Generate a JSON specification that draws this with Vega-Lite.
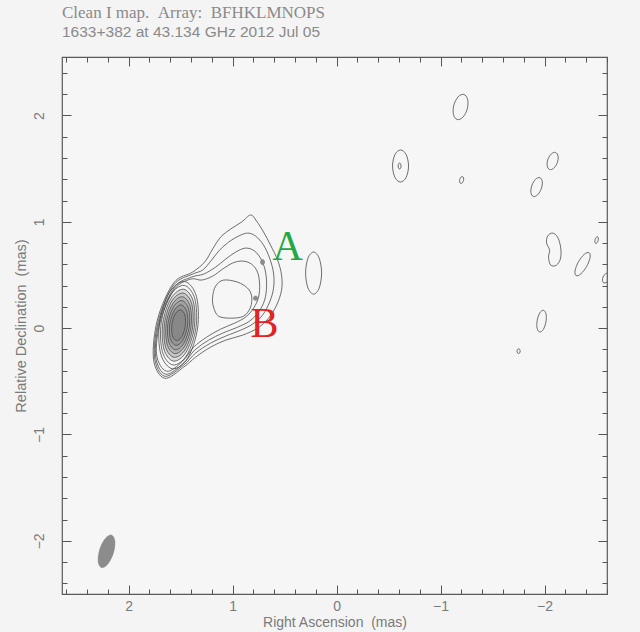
{
"$schema":"https://vega.github.io/schema/vega-lite/v6.json",
"width":545,"height":537,
"autosize":{"type":"none"},
"padding":{"left":62,"top":57,"right":33,"bottom":38},
"background":"#f4f4f4",
"title":{"text":"Clean I map.\u00a0\u00a0Array:\u00a0\u00a0BFHKLMNOPS","subtitle":"1633+382 at 43.134 GHz 2012 Jul 05","anchor":"start","frame":"group","offset":15,"font":"Liberation Serif","fontSize":17,"fontWeight":"normal","color":"#8a8a8a","subtitleFont":"Liberation Sans","subtitleFontSize":15.5,"subtitleColor":"#8a8a8a","subtitlePadding":3},
"config":{"view":{"stroke":"#5a5a5a","strokeWidth":1.2,"fill":"#f6f6f6"}},
"datasets":{
"contours":[
{"id":"L1","o":1,"x":0.827,"y":1.064},{"id":"L1","o":2,"x":0.769,"y":1.007},{"id":"L1","o":3,"x":0.702,"y":0.904},{"id":"L1","o":4,"x":0.635,"y":0.781},{"id":"L1","o":5,"x":0.567,"y":0.640},{"id":"L1","o":6,"x":0.529,"y":0.499},{"id":"L1","o":7,"x":0.529,"y":0.358},{"id":"L1","o":8,"x":0.577,"y":0.216},{"id":"L1","o":9,"x":0.654,"y":0.094},{"id":"L1","o":10,"x":0.760,"y":0.000},{"id":"L1","o":11,"x":0.904,"y":-0.066},{"id":"L1","o":12,"x":1.067,"y":-0.113},{"id":"L1","o":13,"x":1.212,"y":-0.179},{"id":"L1","o":14,"x":1.356,"y":-0.273},{"id":"L1","o":15,"x":1.471,"y":-0.367},{"id":"L1","o":16,"x":1.654,"y":-0.471},{"id":"L1","o":17,"x":1.760,"y":-0.292},{"id":"L1","o":18,"x":1.721,"y":0.085},{"id":"L1","o":19,"x":1.567,"y":0.424},{"id":"L1","o":20,"x":1.385,"y":0.527},{"id":"L1","o":21,"x":1.269,"y":0.621},{"id":"L1","o":22,"x":1.192,"y":0.744},{"id":"L1","o":23,"x":1.115,"y":0.856},{"id":"L1","o":24,"x":1.019,"y":0.932},{"id":"L1","o":25,"x":0.913,"y":0.998},
{"id":"L2","o":1,"x":0.856,"y":0.894},{"id":"L2","o":2,"x":0.779,"y":0.866},{"id":"L2","o":3,"x":0.702,"y":0.781},{"id":"L2","o":4,"x":0.644,"y":0.659},{"id":"L2","o":5,"x":0.606,"y":0.518},{"id":"L2","o":6,"x":0.606,"y":0.376},{"id":"L2","o":7,"x":0.644,"y":0.245},{"id":"L2","o":8,"x":0.712,"y":0.122},{"id":"L2","o":9,"x":0.808,"y":0.038},{"id":"L2","o":10,"x":0.923,"y":-0.019},{"id":"L2","o":11,"x":1.067,"y":-0.075},{"id":"L2","o":12,"x":1.212,"y":-0.141},{"id":"L2","o":13,"x":1.356,"y":-0.235},{"id":"L2","o":14,"x":1.471,"y":-0.348},{"id":"L2","o":15,"x":1.654,"y":-0.452},{"id":"L2","o":16,"x":1.750,"y":-0.273},{"id":"L2","o":17,"x":1.712,"y":0.075},{"id":"L2","o":18,"x":1.567,"y":0.405},{"id":"L2","o":19,"x":1.385,"y":0.508},{"id":"L2","o":20,"x":1.288,"y":0.546},{"id":"L2","o":21,"x":1.202,"y":0.640},{"id":"L2","o":22,"x":1.125,"y":0.734},{"id":"L2","o":23,"x":1.038,"y":0.809},{"id":"L2","o":24,"x":0.942,"y":0.866},
{"id":"L3","o":1,"x":0.875,"y":0.753},{"id":"L3","o":2,"x":0.788,"y":0.725},{"id":"L3","o":3,"x":0.721,"y":0.640},{"id":"L3","o":4,"x":0.683,"y":0.527},{"id":"L3","o":5,"x":0.673,"y":0.395},{"id":"L3","o":6,"x":0.692,"y":0.264},{"id":"L3","o":7,"x":0.750,"y":0.151},{"id":"L3","o":8,"x":0.837,"y":0.066},{"id":"L3","o":9,"x":0.952,"y":0.009},{"id":"L3","o":10,"x":1.096,"y":-0.047},{"id":"L3","o":11,"x":1.231,"y":-0.113},{"id":"L3","o":12,"x":1.365,"y":-0.207},{"id":"L3","o":13,"x":1.471,"y":-0.329},{"id":"L3","o":14,"x":1.644,"y":-0.433},{"id":"L3","o":15,"x":1.740,"y":-0.264},{"id":"L3","o":16,"x":1.702,"y":0.075},{"id":"L3","o":17,"x":1.558,"y":0.386},{"id":"L3","o":18,"x":1.394,"y":0.480},{"id":"L3","o":19,"x":1.279,"y":0.508},{"id":"L3","o":20,"x":1.163,"y":0.574},{"id":"L3","o":21,"x":1.067,"y":0.649},{"id":"L3","o":22,"x":0.971,"y":0.715},
{"id":"L4","o":1,"x":0.904,"y":0.631},{"id":"L4","o":2,"x":0.817,"y":0.602},{"id":"L4","o":3,"x":0.760,"y":0.527},{"id":"L4","o":4,"x":0.740,"y":0.414},{"id":"L4","o":5,"x":0.750,"y":0.292},{"id":"L4","o":6,"x":0.798,"y":0.188},{"id":"L4","o":7,"x":0.875,"y":0.104},{"id":"L4","o":8,"x":0.981,"y":0.047},{"id":"L4","o":9,"x":1.115,"y":-0.009},{"id":"L4","o":10,"x":1.250,"y":-0.085},{"id":"L4","o":11,"x":1.375,"y":-0.179},{"id":"L4","o":12,"x":1.481,"y":-0.311},{"id":"L4","o":13,"x":1.635,"y":-0.405},{"id":"L4","o":14,"x":1.731,"y":-0.245},{"id":"L4","o":15,"x":1.692,"y":0.075},{"id":"L4","o":16,"x":1.558,"y":0.367},{"id":"L4","o":17,"x":1.404,"y":0.461},{"id":"L4","o":18,"x":1.298,"y":0.452},{"id":"L4","o":19,"x":1.192,"y":0.489},{"id":"L4","o":20,"x":1.096,"y":0.555},{"id":"L4","o":21,"x":1.000,"y":0.612},
{"id":"L5","o":1,"x":1.192,"y":0.292},{"id":"L5","o":2,"x":1.163,"y":0.395},{"id":"L5","o":3,"x":1.087,"y":0.452},{"id":"L5","o":4,"x":0.952,"y":0.433},{"id":"L5","o":5,"x":0.856,"y":0.376},{"id":"L5","o":6,"x":0.817,"y":0.301},{"id":"L5","o":7,"x":0.827,"y":0.198},{"id":"L5","o":8,"x":0.894,"y":0.113},{"id":"L5","o":9,"x":1.019,"y":0.094},{"id":"L5","o":10,"x":1.135,"y":0.113},{"id":"L5","o":11,"x":1.183,"y":0.198},
{"id":"c1","o":1,"x":1.336,"y":0.003},{"id":"c1","o":2,"x":1.431,"y":-0.280},{"id":"c1","o":3,"x":1.578,"y":-0.382},{"id":"c1","o":4,"x":1.690,"y":-0.244},{"id":"c1","o":5,"x":1.702,"y":0.053},{"id":"c1","o":6,"x":1.607,"y":0.336},{"id":"c1","o":7,"x":1.460,"y":0.438},{"id":"c1","o":8,"x":1.348,"y":0.300},
{"id":"c2","o":1,"x":1.352,"y":0.005},{"id":"c2","o":2,"x":1.439,"y":-0.253},{"id":"c2","o":3,"x":1.573,"y":-0.346},{"id":"c2","o":4,"x":1.675,"y":-0.220},{"id":"c2","o":5,"x":1.686,"y":0.051},{"id":"c2","o":6,"x":1.599,"y":0.309},{"id":"c2","o":7,"x":1.465,"y":0.402},{"id":"c2","o":8,"x":1.363,"y":0.276},
{"id":"c3","o":1,"x":1.368,"y":0.007},{"id":"c3","o":2,"x":1.447,"y":-0.226},{"id":"c3","o":3,"x":1.568,"y":-0.310},{"id":"c3","o":4,"x":1.660,"y":-0.196},{"id":"c3","o":5,"x":1.670,"y":0.049},{"id":"c3","o":6,"x":1.591,"y":0.282},{"id":"c3","o":7,"x":1.470,"y":0.366},{"id":"c3","o":8,"x":1.378,"y":0.252},
{"id":"c4","o":1,"x":1.384,"y":0.010},{"id":"c4","o":2,"x":1.454,"y":-0.199},{"id":"c4","o":3,"x":1.562,"y":-0.274},{"id":"c4","o":4,"x":1.645,"y":-0.173},{"id":"c4","o":5,"x":1.654,"y":0.047},{"id":"c4","o":6,"x":1.584,"y":0.255},{"id":"c4","o":7,"x":1.476,"y":0.330},{"id":"c4","o":8,"x":1.393,"y":0.229},
{"id":"c5","o":1,"x":1.400,"y":0.012},{"id":"c5","o":2,"x":1.462,"y":-0.172},{"id":"c5","o":3,"x":1.557,"y":-0.239},{"id":"c5","o":4,"x":1.630,"y":-0.149},{"id":"c5","o":5,"x":1.638,"y":0.044},{"id":"c5","o":6,"x":1.576,"y":0.228},{"id":"c5","o":7,"x":1.481,"y":0.295},{"id":"c5","o":8,"x":1.408,"y":0.205},
{"id":"c6","o":1,"x":1.416,"y":0.014},{"id":"c6","o":2,"x":1.470,"y":-0.145},{"id":"c6","o":3,"x":1.552,"y":-0.203},{"id":"c6","o":4,"x":1.615,"y":-0.125},{"id":"c6","o":5,"x":1.622,"y":0.042},{"id":"c6","o":6,"x":1.568,"y":0.201},{"id":"c6","o":7,"x":1.486,"y":0.259},{"id":"c6","o":8,"x":1.423,"y":0.181},
{"id":"c7","o":1,"x":1.434,"y":0.016},{"id":"c7","o":2,"x":1.479,"y":-0.114},{"id":"c7","o":3,"x":1.546,"y":-0.162},{"id":"c7","o":4,"x":1.598,"y":-0.098},{"id":"c7","o":5,"x":1.604,"y":0.040},{"id":"c7","o":6,"x":1.559,"y":0.170},{"id":"c7","o":7,"x":1.492,"y":0.218},{"id":"c7","o":8,"x":1.440,"y":0.154},
{"id":"c8","o":1,"x":1.455,"y":0.019},{"id":"c8","o":2,"x":1.488,"y":-0.080},{"id":"c8","o":3,"x":1.540,"y":-0.116},{"id":"c8","o":4,"x":1.579,"y":-0.067},{"id":"c8","o":5,"x":1.583,"y":0.037},{"id":"c8","o":6,"x":1.550,"y":0.136},{"id":"c8","o":7,"x":1.498,"y":0.172},{"id":"c8","o":8,"x":1.459,"y":0.123},
{"id":"n1","o":1,"x":-1.127,"y":2.097},{"id":"n1","o":2,"x":-1.169,"y":2.176},{"id":"n1","o":3,"x":-1.224,"y":2.198},{"id":"n1","o":4,"x":-1.260,"y":2.151},{"id":"n1","o":5,"x":-1.257,"y":2.063},{"id":"n1","o":6,"x":-1.215,"y":1.984},{"id":"n1","o":7,"x":-1.160,"y":1.962},{"id":"n1","o":8,"x":-1.124,"y":2.009},
{"id":"n2","o":1,"x":-0.538,"y":1.525},{"id":"n2","o":2,"x":-0.561,"y":1.632},{"id":"n2","o":3,"x":-0.615,"y":1.676},{"id":"n2","o":4,"x":-0.669,"y":1.632},{"id":"n2","o":5,"x":-0.692,"y":1.525},{"id":"n2","o":6,"x":-0.669,"y":1.418},{"id":"n2","o":7,"x":-0.615,"y":1.374},{"id":"n2","o":8,"x":-0.561,"y":1.418},
{"id":"n2i","o":1,"x":-0.592,"y":1.525},{"id":"n2i","o":2,"x":-0.596,"y":1.545},{"id":"n2i","o":3,"x":-0.606,"y":1.553},{"id":"n2i","o":4,"x":-0.616,"y":1.545},{"id":"n2i","o":5,"x":-0.620,"y":1.525},{"id":"n2i","o":6,"x":-0.616,"y":1.505},{"id":"n2i","o":7,"x":-0.606,"y":1.497},{"id":"n2i","o":8,"x":-0.596,"y":1.505},
{"id":"n3","o":1,"x":-1.184,"y":1.398},{"id":"n3","o":2,"x":-1.195,"y":1.419},{"id":"n3","o":3,"x":-1.211,"y":1.425},{"id":"n3","o":4,"x":-1.221,"y":1.412},{"id":"n3","o":5,"x":-1.220,"y":1.388},{"id":"n3","o":6,"x":-1.209,"y":1.367},{"id":"n3","o":7,"x":-1.194,"y":1.361},{"id":"n3","o":8,"x":-1.183,"y":1.374},
{"id":"n4","o":1,"x":-2.032,"y":1.588},{"id":"n4","o":2,"x":-2.066,"y":1.640},{"id":"n4","o":3,"x":-2.106,"y":1.652},{"id":"n4","o":4,"x":-2.130,"y":1.617},{"id":"n4","o":5,"x":-2.122,"y":1.556},{"id":"n4","o":6,"x":-2.088,"y":1.504},{"id":"n4","o":7,"x":-2.048,"y":1.492},{"id":"n4","o":8,"x":-2.025,"y":1.527},
{"id":"n5","o":1,"x":-1.878,"y":1.343},{"id":"n5","o":2,"x":-1.914,"y":1.401},{"id":"n5","o":3,"x":-1.955,"y":1.415},{"id":"n5","o":4,"x":-1.978,"y":1.378},{"id":"n5","o":5,"x":-1.968,"y":1.311},{"id":"n5","o":6,"x":-1.932,"y":1.253},{"id":"n5","o":7,"x":-1.891,"y":1.239},{"id":"n5","o":8,"x":-1.868,"y":1.276},
{"id":"n6","o":1,"x":-2.077,"y":0.894},{"id":"n6","o":2,"x":-2.125,"y":0.856},{"id":"n6","o":3,"x":-2.154,"y":0.762},{"id":"n6","o":4,"x":-2.154,"y":0.659},{"id":"n6","o":5,"x":-2.115,"y":0.593},{"id":"n6","o":6,"x":-2.058,"y":0.593},{"id":"n6","o":7,"x":-2.038,"y":0.668},{"id":"n6","o":8,"x":-2.048,"y":0.734},{"id":"n6","o":9,"x":-2.019,"y":0.800},{"id":"n6","o":10,"x":-2.029,"y":0.866},
{"id":"n7","o":1,"x":-2.326,"y":0.625},{"id":"n7","o":2,"x":-2.382,"y":0.695},{"id":"n7","o":3,"x":-2.428,"y":0.710},{"id":"n7","o":4,"x":-2.437,"y":0.663},{"id":"n7","o":5,"x":-2.404,"y":0.580},{"id":"n7","o":6,"x":-2.348,"y":0.510},{"id":"n7","o":7,"x":-2.303,"y":0.494},{"id":"n7","o":8,"x":-2.293,"y":0.541},
{"id":"n8","o":1,"x":-2.486,"y":0.832},{"id":"n8","o":2,"x":-2.496,"y":0.853},{"id":"n8","o":3,"x":-2.509,"y":0.860},{"id":"n8","o":4,"x":-2.516,"y":0.848},{"id":"n8","o":5,"x":-2.515,"y":0.824},{"id":"n8","o":6,"x":-2.504,"y":0.803},{"id":"n8","o":7,"x":-2.492,"y":0.796},{"id":"n8","o":8,"x":-2.484,"y":0.808},
{"id":"n9","o":1,"x":-2.563,"y":0.484},{"id":"n9","o":2,"x":-2.586,"y":0.512},{"id":"n9","o":3,"x":-2.611,"y":0.516},{"id":"n9","o":4,"x":-2.624,"y":0.494},{"id":"n9","o":5,"x":-2.617,"y":0.458},{"id":"n9","o":6,"x":-2.594,"y":0.430},{"id":"n9","o":7,"x":-2.569,"y":0.426},{"id":"n9","o":8,"x":-2.556,"y":0.448},
{"id":"n10","o":1,"x":-1.929,"y":0.074},{"id":"n10","o":2,"x":-1.954,"y":0.144},{"id":"n10","o":3,"x":-1.989,"y":0.168},{"id":"n10","o":4,"x":-2.014,"y":0.133},{"id":"n10","o":5,"x":-2.013,"y":0.059},{"id":"n10","o":6,"x":-1.988,"y":-0.012},{"id":"n10","o":7,"x":-1.953,"y":-0.036},{"id":"n10","o":8,"x":-1.928,"y":-0.001},
{"id":"n11","o":1,"x":-1.735,"y":-0.216},{"id":"n11","o":2,"x":-1.739,"y":-0.200},{"id":"n11","o":3,"x":-1.750,"y":-0.194},{"id":"n11","o":4,"x":-1.761,"y":-0.200},{"id":"n11","o":5,"x":-1.765,"y":-0.216},{"id":"n11","o":6,"x":-1.761,"y":-0.232},{"id":"n11","o":7,"x":-1.750,"y":-0.238},{"id":"n11","o":8,"x":-1.739,"y":-0.232},
{"id":"n12","o":1,"x":0.144,"y":0.518},{"id":"n12","o":2,"x":0.167,"y":0.658},{"id":"n12","o":3,"x":0.221,"y":0.716},{"id":"n12","o":4,"x":0.275,"y":0.658},{"id":"n12","o":5,"x":0.298,"y":0.518},{"id":"n12","o":6,"x":0.275,"y":0.378},{"id":"n12","o":7,"x":0.221,"y":0.320},{"id":"n12","o":8,"x":0.167,"y":0.378}
],
"blobs":[
{"id":"beam","o":1,"x":2.276,"y":-2.078},{"id":"beam","o":2,"x":2.222,"y":-1.977},{"id":"beam","o":3,"x":2.163,"y":-1.947},{"id":"beam","o":4,"x":2.132,"y":-2.006},{"id":"beam","o":5,"x":2.148,"y":-2.120},{"id":"beam","o":6,"x":2.202,"y":-2.221},{"id":"beam","o":7,"x":2.261,"y":-2.251},{"id":"beam","o":8,"x":2.292,"y":-2.192},
{"id":"s1","o":1,"x":0.732,"y":0.621},{"id":"s1","o":2,"x":0.726,"y":0.639},{"id":"s1","o":3,"x":0.712,"y":0.646},{"id":"s1","o":4,"x":0.698,"y":0.639},{"id":"s1","o":5,"x":0.692,"y":0.621},{"id":"s1","o":6,"x":0.698,"y":0.603},{"id":"s1","o":7,"x":0.712,"y":0.596},{"id":"s1","o":8,"x":0.726,"y":0.603},
{"id":"s2","o":1,"x":0.801,"y":0.282},{"id":"s2","o":2,"x":0.795,"y":0.296},{"id":"s2","o":3,"x":0.779,"y":0.302},{"id":"s2","o":4,"x":0.763,"y":0.296},{"id":"s2","o":5,"x":0.757,"y":0.282},{"id":"s2","o":6,"x":0.763,"y":0.268},{"id":"s2","o":7,"x":0.779,"y":0.262},{"id":"s2","o":8,"x":0.795,"y":0.268}
],
"labels":[{"lab":"A","x":0.471,"y":0.762},{"lab":"B","x":0.692,"y":0.038}]
},
"resolve":{"axis":{"x":"independent","y":"independent"}},
"layer":[
{"data":{"name":"contours"},"transform":[{"filter":{"field":"id","oneOf":["c3","c4","c5","c6","c7","c8"]}}],
 "mark":{"type":"line","interpolate":"cardinal-closed","fill":"#404040","fillOpacity":0.14,"strokeWidth":0,"clip":true},
 "encoding":{"x":{"field":"x","type":"quantitative","scale":{"domain":[-2.6,2.64],"reverse":true,"nice":false,"zero":false},"axis":null},
  "y":{"field":"y","type":"quantitative","scale":{"domain":[-2.5,2.55],"nice":false,"zero":false},"axis":null},
  "detail":{"field":"id"},"order":{"field":"o","type":"quantitative"}}},
{"data":{"name":"contours"},
 "mark":{"type":"line","interpolate":"cardinal-closed","stroke":"#4a4a4a","strokeWidth":0.8,"clip":true},
 "encoding":{"x":{"field":"x","type":"quantitative","scale":{"domain":[-2.6,2.64],"reverse":true,"nice":false,"zero":false},
   "axis":{"orient":"bottom","values":[-2.6,-2.4,-2.2,-2,-1.8,-1.6,-1.4,-1.2,-1,-0.8,-0.6,-0.4,-0.2,0,0.2,0.4,0.6,0.8,1,1.2,1.4,1.6,1.8,2,2.2,2.4,2.6],"domain":false,"grid":false,"tickColor":"#555","tickWidth":1,"tickSize":{"condition":{"test":"abs(datum.value-round(datum.value))<0.001","value":-9},"value":-5},"labelExpr":"abs(datum.value-round(datum.value))<0.001 ? format(datum.value,'d') : ''","labelPadding":14,"labelFont":"Liberation Sans","labelFontSize":14,"labelColor":"#7a7a7a","labelOverlap":false,"labelFlush":false,"labelBound":false,"title":"Right Ascension\u00a0\u00a0(mas)","titleFont":"Liberation Sans","titleFontSize":14,"titleFontWeight":"normal","titleColor":"#7a7a7a","titlePadding":-2}},
  "y":{"field":"y","type":"quantitative","scale":{"domain":[-2.5,2.55],"nice":false,"zero":false},
   "axis":{"orient":"left","values":[-2.4,-2.2,-2,-1.8,-1.6,-1.4,-1.2,-1,-0.8,-0.6,-0.4,-0.2,0,0.2,0.4,0.6,0.8,1,1.2,1.4,1.6,1.8,2,2.2,2.4],"domain":false,"grid":false,"tickColor":"#555","tickWidth":1,"tickSize":{"condition":{"test":"abs(datum.value-round(datum.value))<0.001","value":-9},"value":-5},"labelExpr":"abs(datum.value-round(datum.value))<0.001 ? format(datum.value,'d') : ''","labelAngle":-90,"labelAlign":"center","labelBaseline":"bottom","labelPadding":25,"labelFont":"Liberation Sans","labelFontSize":14,"labelColor":"#7a7a7a","labelOverlap":false,"labelFlush":false,"labelBound":false,"title":"Relative Declination\u00a0\u00a0(mas)","titleFont":"Liberation Sans","titleFontSize":14.5,"titleFontWeight":"normal","titleColor":"#7a7a7a","titlePadding":0}},
  "detail":{"field":"id"},"order":{"field":"o","type":"quantitative"}}},
{"data":{"name":"blobs"},
 "mark":{"type":"line","interpolate":"cardinal-closed","fill":"#8c8c8c","stroke":"#808080","strokeWidth":0.6,"clip":true},
 "encoding":{"x":{"field":"x","type":"quantitative","scale":{"domain":[-2.6,2.64],"reverse":true,"nice":false,"zero":false},"axis":null},
  "y":{"field":"y","type":"quantitative","scale":{"domain":[-2.5,2.55],"nice":false,"zero":false},"axis":null},
  "detail":{"field":"id"},"order":{"field":"o","type":"quantitative"}}},
{"data":{"name":"labels"},
 "mark":{"type":"text","font":"Liberation Serif","fontSize":42,"baseline":"middle","align":"center"},
 "encoding":{"x":{"field":"x","type":"quantitative","scale":{"domain":[-2.6,2.64],"reverse":true,"nice":false,"zero":false},
   "axis":{"orient":"top","values":[-2.6,-2.4,-2.2,-2,-1.8,-1.6,-1.4,-1.2,-1,-0.8,-0.6,-0.4,-0.2,0,0.2,0.4,0.6,0.8,1,1.2,1.4,1.6,1.8,2,2.2,2.4,2.6],"domain":false,"grid":false,"labels":false,"title":null,"tickColor":"#555","tickWidth":1,"tickSize":{"condition":{"test":"abs(datum.value-round(datum.value))<0.001","value":-9},"value":-5}}},
  "y":{"field":"y","type":"quantitative","scale":{"domain":[-2.5,2.55],"nice":false,"zero":false},
   "axis":{"orient":"right","values":[-2.4,-2.2,-2,-1.8,-1.6,-1.4,-1.2,-1,-0.8,-0.6,-0.4,-0.2,0,0.2,0.4,0.6,0.8,1,1.2,1.4,1.6,1.8,2,2.2,2.4],"domain":false,"grid":false,"labels":false,"title":null,"tickColor":"#555","tickWidth":1,"tickSize":{"condition":{"test":"abs(datum.value-round(datum.value))<0.001","value":-9},"value":-5}}},
  "text":{"field":"lab"},
  "color":{"field":"lab","type":"nominal","scale":{"domain":["A","B"],"range":["#23a843","#e32222"]},"legend":null}}}
]
}
